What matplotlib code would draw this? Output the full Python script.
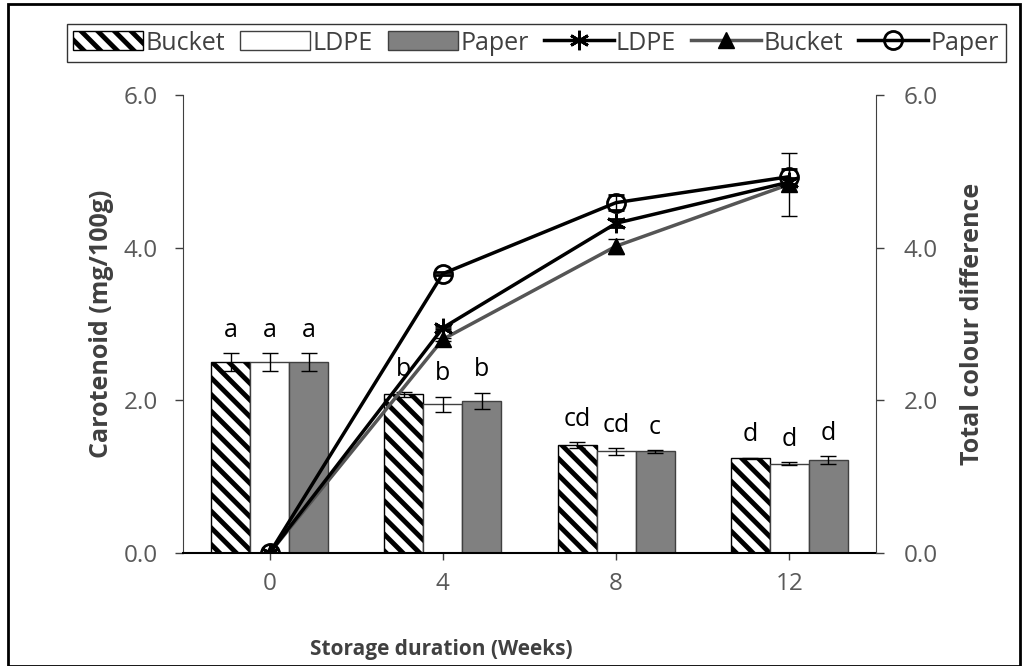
import matplotlib
matplotlib.use("Agg")
import matplotlib.pyplot as plt
from matplotlib.patches import Patch, Rectangle
from matplotlib.lines import Line2D
import numpy as np

plt.rcParams['font.family'] = ['Open Sans', 'DejaVu Sans']
plt.rcParams['hatch.linewidth'] = 3.5

# Data
weeks = ["0", "4", "8", "12"]

# carotenoid (bars)
car_bucket = [2.50, 2.08, 1.41, 1.24]
car_bucket_err = [0.12, 0.03, 0.04, 0.01]
car_ldpe = [2.50, 1.95, 1.33, 1.17]
car_ldpe_err = [0.12, 0.10, 0.04, 0.02]
car_paper = [2.50, 1.99, 1.33, 1.22]
car_paper_err = [0.12, 0.11, 0.02, 0.05]
letters_bucket = ["a", "b", "cd", "d"]
letters_ldpe = ["a", "b", "cd", "d"]
letters_paper = ["a", "b", "c", "d"]

# total colour difference (lines)
tcd_ldpe = [0.0, 2.95, 4.32, 4.86]
tcd_ldpe_err = [0.0, 0.02, 0.05, 0.05]
tcd_bucket = [0.0, 2.80, 4.02, 4.83]
tcd_bucket_err = [0.0, 0.02, 0.10, 0.41]
tcd_paper = [0.0, 3.66, 4.59, 4.93]
tcd_paper_err = [0.0, 0.02, 0.10, 0.10]

fig = plt.figure(figsize=(10.26, 6.66), dpi=100)
ax = fig.add_axes([183/1026, 1-553/666, (876-183)/1026, (553-95)/666])

x = np.arange(len(weeks))
w = 0.225
edge = '#404040'
ekw = dict(ecolor='black', elinewidth=1, capsize=6, capthick=1)

ax.bar(x - w, car_bucket, w, yerr=car_bucket_err, color='white', edgecolor='black',
       hatch='\\\\', linewidth=1, error_kw=ekw)
ax.bar(x, car_ldpe, w, yerr=car_ldpe_err, color='white', edgecolor=edge,
       linewidth=1, error_kw=ekw)
ax.bar(x + w, car_paper, w, yerr=car_paper_err, color='#808080', edgecolor=edge,
       linewidth=1, error_kw=ekw)

# significance letters
pad = 0.3
for vals, errs, labs, off in [(car_bucket, car_bucket_err, letters_bucket, -w),
                              (car_ldpe, car_ldpe_err, letters_ldpe, 0),
                              (car_paper, car_paper_err, letters_paper, w)]:
    for i in range(len(weeks)):
        ax.text(x[i] + off, vals[i] + errs[i] + pad, labs[i], ha='center', va='center',
                fontsize=18, color='black')

ax.set_xlim(-0.5, 3.5)
ax.set_ylim(0, 6)
ax.set_yticks([0, 2, 4, 6])
ax.set_yticklabels(["0.0", "2.0", "4.0", "6.0"])
ax.set_xticks(x)
ax.set_xticklabels(weeks)
ax.tick_params(axis='both', labelsize=17.5, labelcolor='#595959', direction='out',
               length=6, width=1, color='#404040')
ax.tick_params(axis='y', pad=12)
ax.tick_params(axis='x', length=5, pad=9)
ax.spines['top'].set_visible(False)
ax.spines['right'].set_visible(False)
ax.spines['bottom'].set_linewidth(1.5)
ax.spines['left'].set_color('#404040')
ax.set_ylabel("Carotenoid (mg/100g)", fontsize=18, fontweight='bold', color='#404040', labelpad=7)
ax.set_xlabel("Storage duration (Weeks)", fontsize=15, fontweight='bold', color='#404040')
ax.xaxis.set_label_coords((441-183)/693, (553-650)/458)
ax.xaxis.label.set_va('center')

ax2 = ax.twinx()
ax2.set_ylim(0, 6)
ax2.set_yticks([0, 2, 4, 6])
ax2.set_yticklabels(["0.0", "2.0", "4.0", "6.0"])
ax2.tick_params(axis='y', labelsize=17.5, labelcolor='#595959', direction='out',
                length=6, width=1, color='#404040', pad=14)
for s in ['top', 'left', 'bottom']:
    ax2.spines[s].set_visible(False)
ax2.spines['right'].set_color('#404040')
ax2.set_ylabel("Total colour difference", fontsize=18, fontweight='bold', color='#404040', labelpad=16)

ax2.errorbar(x, tcd_bucket, yerr=tcd_bucket_err, color='#555555', lw=2.5, marker='^',
             ms=12, mfc='black', mec='black', ecolor='black', elinewidth=1, capsize=6)
ax2.errorbar(x, tcd_ldpe, yerr=tcd_ldpe_err, color='black', lw=2.5, marker=(6, 2, 0),
             ms=14, mew=2, mec='black', ecolor='black', elinewidth=1, capsize=6)
ax2.errorbar(x, tcd_paper, yerr=tcd_paper_err, color='black', lw=2.5, marker='o',
             ms=13, mfc='none', mec='black', mew=2, ecolor='black', elinewidth=1, capsize=6)

handles = [
    Patch(facecolor='white', edgecolor='black', hatch='\\\\', label='Bucket'),
    Patch(facecolor='white', edgecolor=edge, label='LDPE'),
    Patch(facecolor='#808080', edgecolor=edge, label='Paper'),
    Line2D([], [], color='black', lw=2.5, marker=(6, 2, 0), ms=14, mew=2, label='LDPE'),
    Line2D([], [], color='#555555', lw=2.5, marker='^', ms=12, mfc='black', mec='black', label='Bucket'),
    Line2D([], [], color='black', lw=2.5, marker='o', ms=13, mfc='none', mec='black', mew=2, label='Paper'),
]
leg = fig.legend(handles=handles, loc='center', bbox_to_anchor=(536/1026, 1-43/666), ncol=6,
                 fontsize=18, frameon=True, fancybox=False, edgecolor='black',
                 handlelength=2.8, handleheight=0.8, handletextpad=0.1, columnspacing=0.6,
                 borderpad=0.25, labelcolor='#404040')
leg.get_frame().set_linewidth(1)

# outer frame
fig.patches.append(Rectangle((8/1026, 0.0), 1012/1026, 1-4/666, transform=fig.transFigure,
                             fill=False, edgecolor='black', linewidth=2))

fig.savefig("out.png", dpi=100)
